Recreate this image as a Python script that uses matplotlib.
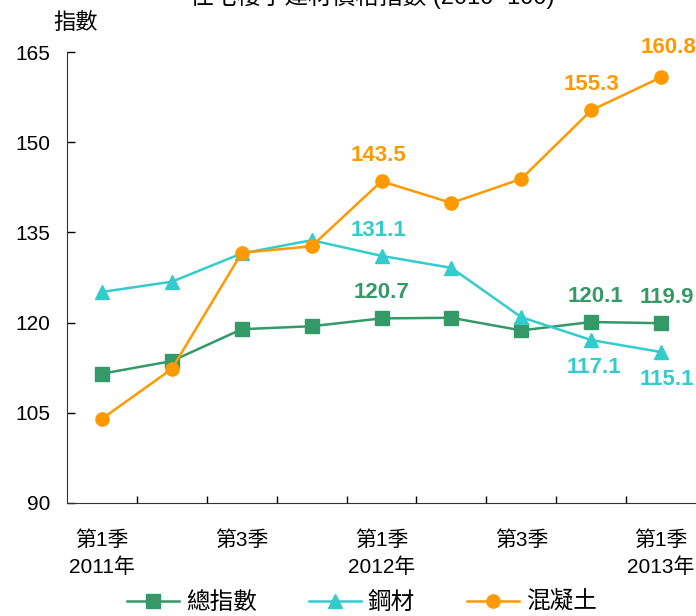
import matplotlib
matplotlib.use('Agg')
import matplotlib.pyplot as plt
import numpy as np

plt.rcParams['font.family'] = ['Liberation Sans', 'Noto Sans CJK TC', 'DejaVu Sans']

# quarters 2011 Q1 .. 2013 Q1
quarters = ['2011Q1', '2011Q2', '2011Q3', '2011Q4', '2012Q1',
            '2012Q2', '2012Q3', '2012Q4', '2013Q1']
tick_labels = ['第1季\n2011年', '', '第3季', '', '第1季\n2012年',
               '', '第3季', '', '第1季\n2013年']

total_index = [111.5, 113.6, 118.9, 119.4, 120.7, 120.8, 118.7, 120.1, 119.9]
steel = [125.1, 126.8, 131.5, 133.7, 131.1, 129.1, 120.9, 117.1, 115.1]
concrete = [104.0, 112.3, 131.6, 132.7, 143.5, 139.9, 143.9, 155.3, 160.8]

names = ['總指數', '鋼材', '混凝土']
colors = ['#339966', '#33CCCC', '#FF9900']
markers = ['s', '^', 'o']

fig = plt.figure(figsize=(6.96, 6.16), dpi=100)
ax = fig.add_axes([67/696, 1-503/616, 629/696, 451/616])

x = np.arange(len(quarters))
for vals, name, c, m in zip([total_index, steel, concrete], names, colors, markers):
    ax.plot(x, vals, color=c, lw=1.8, marker=m, markersize=9.5, label=name)

# value labels (only some points labelled)
lab_style = dict(fontsize=16, fontweight='bold', ha='center')
ax.annotate('143.5', (4, concrete[4]), xytext=(-2, 11), textcoords='offset points',
            color=colors[2], va='bottom', **lab_style)
ax.annotate('155.3', (7, concrete[7]), xytext=(0, 11), textcoords='offset points',
            color=colors[2], va='bottom', **lab_style)
ax.annotate('160.8', (8, concrete[8]), xytext=(5, 14), textcoords='offset points',
            color=colors[2], va='bottom', annotation_clip=False, **lab_style)
ax.annotate('131.1', (4, steel[4]), xytext=(-2, 11), textcoords='offset points',
            color=colors[1], va='bottom', **lab_style)
ax.annotate('120.7', (4, total_index[4]), xytext=(0, 11), textcoords='offset points',
            color=colors[0], va='bottom', **lab_style)
ax.annotate('120.1', (7, total_index[7]), xytext=(3, 11), textcoords='offset points',
            color=colors[0], va='bottom', **lab_style)
ax.annotate('119.9', (8, total_index[8]), xytext=(4, 11), textcoords='offset points',
            color=colors[0], va='bottom', annotation_clip=False, **lab_style)
ax.annotate('117.1', (7, steel[7]), xytext=(2, -12), textcoords='offset points',
            color=colors[1], va='top', **lab_style)
ax.annotate('115.1', (8, steel[8]), xytext=(4, -12), textcoords='offset points',
            color=colors[1], va='top', annotation_clip=False, **lab_style)

ax.set_xlim(-0.5, 8.5)
ax.set_ylim(90, 165)
ax.set_yticks(np.arange(90, 166, 15))
ax.tick_params(axis='y', direction='in', length=6, width=1, labelsize=15, pad=12)
ax.set_xticks(x)
ax.set_xticklabels(tick_labels, fontsize=15, linespacing=1.45)
ax.set_xticks(np.arange(0.5, 8.5, 1), minor=True)
ax.tick_params(axis='x', which='major', length=0, pad=20)
ax.tick_params(axis='x', which='minor', direction='in', length=5, width=1)
for s in ['top', 'right']:
    ax.spines[s].set_visible(False)
for s in ['left', 'bottom']:
    ax.spines[s].set_color('#333333')

fig.text(53/696, 1-23/616, '指數', fontsize=16, va='center', ha='left')
fig.text(0.535, 1-4/616, '住宅樓宇建材價格指數 (2010=100)', fontsize=17,
         ha='center', va='baseline')

fig.legend(loc='center', bbox_to_anchor=(0.52, 1-603/616), ncol=3, frameon=False,
           fontsize=17, handlelength=2.2, columnspacing=2.2, handletextpad=0.3,
           borderaxespad=0)

fig.savefig('out.png', dpi=100)
